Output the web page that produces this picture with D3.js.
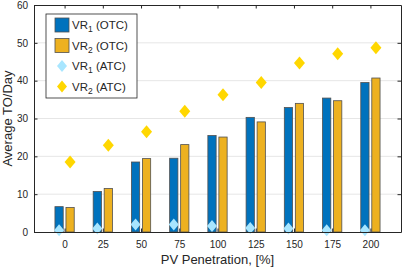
<!DOCTYPE html>
<html>
<head>
<meta charset="utf-8">
<script src="https://cdn.jsdelivr.net/npm/d3@7"></script>
<style>
  body { margin: 0; background: #fff; }
  text { font-family: "Liberation Sans", Arial, sans-serif; fill: #262626; }
</style>
</head>
<body>
<svg id="chart" width="403" height="270"></svg>
<script>
const penetration = [0, 25, 50, 75, 100, 125, 150, 175, 200]
const vr1OTC = [6.7, 10.7, 18.5, 19.5, 25.5, 30.3, 32.9, 35.4, 39.5]
const vr2OTC = [6.5, 11.5, 19.4, 23.1, 25.1, 29.1, 34.0, 34.7, 40.7]
const vr1ATC = [0.45, 0.9, 1.95, 1.95, 1.6, 1.05, 0.9, 0.45, 0.45]
const vr2ATC = [18.5, 22.9, 26.5, 31.9, 36.3, 39.5, 44.7, 47.1, 48.7]
const yTicks = [0, 10, 20, 30, 40, 50, 60]

const margin = {left: 34, top: 5, right: 2, bottom: 38}
const width = 403, height = 270
const svg = d3.select("#chart")

const x = d3.scaleLinear().domain([-20, 220]).range([margin.left, width - margin.right])
const y = d3.scaleLinear().domain([0, 60]).range([height - margin.bottom, margin.top])

const barW = 5.4   // in data units
const off = 3.6

// grid
svg.append("g")
  .selectAll("line")
  .data(yTicks.slice(1, -1))
  .join("line")
    .attr("x1", x(-20)).attr("x2", x(220))
    .attr("y1", d => y(d)).attr("y2", d => y(d))
    .attr("stroke", "#e6e6e6").attr("stroke-width", 1)

const bars = svg.append("g").attr("stroke", "#505050").attr("stroke-width", 0.8)
bars.selectAll("rect.b1")
  .data(penetration)
  .join("rect")
    .attr("x", (d) => x(d - off - barW / 2))
    .attr("width", x(barW) - x(0))
    .attr("y", (d, i) => y(vr1OTC[i]))
    .attr("height", (d, i) => y(0) - y(vr1OTC[i]))
    .attr("fill", "#0072BD")
bars.selectAll("rect.b2")
  .data(penetration)
  .join("rect")
    .attr("x", (d) => x(d + off - barW / 2))
    .attr("width", x(barW) - x(0))
    .attr("y", (d, i) => y(vr2OTC[i]))
    .attr("height", (d, i) => y(0) - y(vr2OTC[i]))
    .attr("fill", "#EDB120")

const diamond = (w, h) => `M0,${-h/2}L${w/2},0L0,${h/2}L${-w/2},0Z`

svg.append("g")
  .selectAll("path")
  .data(penetration)
  .join("path")
    .attr("d", diamond(10, 12))
    .attr("transform", (d, i) => `translate(${x(d - off)},${y(vr1ATC[i])})`)
    .attr("fill", "#A8E6FF")
svg.append("g")
  .selectAll("path")
  .data(penetration)
  .join("path")
    .attr("d", diamond(11, 13))
    .attr("transform", (d, i) => `translate(${x(d + off)},${y(vr2ATC[i])})`)
    .attr("fill", "#FFD700")

// axes
const ax = svg.append("g").attr("font-size", 12)
ax.append("g")
  .attr("transform", `translate(0,${y(0)})`)
  .call(d3.axisBottom(x).tickValues(penetration).tickSizeInner(-3.5).tickSizeOuter(0).tickPadding(9))
ax.append("g")
  .attr("transform", `translate(0,${y(60)})`)
  .call(d3.axisTop(x).tickValues(penetration).tickSizeInner(-3.5).tickSizeOuter(0).tickFormat(""))
ax.append("g")
  .attr("transform", `translate(${x(-20)},0)`)
  .call(d3.axisLeft(y).tickValues(yTicks).tickSizeInner(-3.5).tickSizeOuter(0).tickPadding(6))
ax.append("g")
  .attr("transform", `translate(${x(220)},0)`)
  .call(d3.axisRight(y).tickValues(yTicks).tickSizeInner(-3.5).tickSizeOuter(0).tickFormat(""))
ax.selectAll("path.domain, line").attr("stroke", "#262626")
ax.selectAll("text").attr("fill", "#262626").attr("font-family", "Liberation Sans, Arial, sans-serif")

svg.append("text")
  .attr("x", (x(-20) + x(220)) / 2).attr("y", 264)
  .attr("text-anchor", "middle").attr("font-size", 13)
  .text("PV Penetration, [%]")
svg.append("text")
  .attr("transform", `translate(12,${(y(0) + y(60)) / 2}) rotate(-90)`)
  .attr("text-anchor", "middle").attr("font-size", 13)
  .text("Average TO/Day")

// legend
const legendItems = [
  {sub: "1", tag: "(OTC)", type: "rect", color: "#0072BD"},
  {sub: "2", tag: "(OTC)", type: "rect", color: "#EDB120"},
  {sub: "1", tag: "(ATC)", type: "diamond", color: "#A8E6FF"},
  {sub: "2", tag: "(ATC)", type: "diamond", color: "#FFD700"}
]
const lg = svg.append("g").attr("transform", "translate(46,14)")
lg.append("rect").attr("width", 91).attr("height", 84)
  .attr("fill", "#fff").attr("stroke", "#262626").attr("stroke-width", 0.8)
legendItems.forEach((it, i) => {
  const cy = 11 + i * 20.5
  if (it.type == "rect") {
    lg.append("rect").attr("x", 9).attr("y", cy - 7).attr("width", 14).attr("height", 14)
      .attr("fill", it.color).attr("stroke", "#505050").attr("stroke-width", 0.8)
  } else {
    lg.append("path").attr("d", diamond(10, 12))
      .attr("transform", `translate(16,${cy})`).attr("fill", it.color)
  }
  const t = lg.append("text").attr("x", 26).attr("y", cy + 4).attr("font-size", 11.5)
  t.append("tspan").text("VR")
  t.append("tspan").attr("font-size", 8.5).attr("dy", 3).text(it.sub)
  t.append("tspan").attr("dy", -3).text(" " + it.tag)
})
</script>
</body>
</html>
